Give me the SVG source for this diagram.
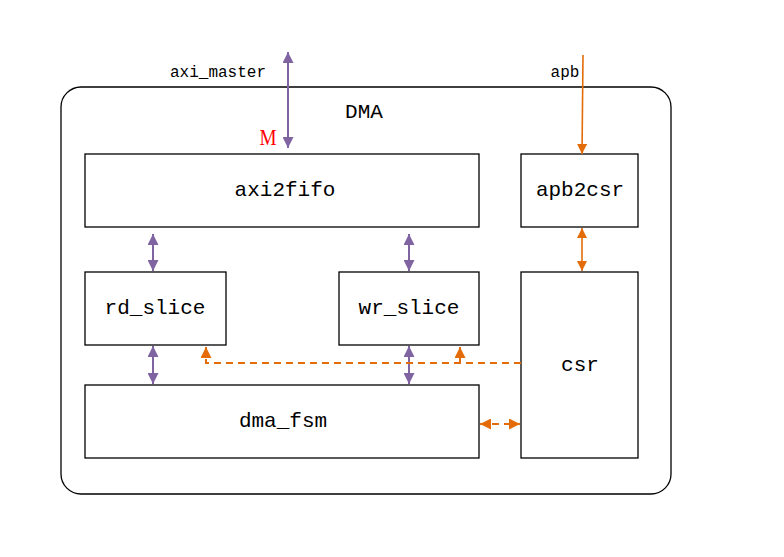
<svg xmlns="http://www.w3.org/2000/svg" width="784" height="557" viewBox="0 0 784 557">
<style>
.box{fill:#fff;stroke:#000;stroke-width:1.3}
.lbl{font-family:"Liberation Mono","DejaVu Sans Mono",monospace;font-size:21px;fill:#000;text-anchor:middle;dominant-baseline:central}
.sm{font-family:"Liberation Mono","DejaVu Sans Mono",monospace;font-size:16px;fill:#000;text-anchor:middle}
.pu{stroke:#8064a2;stroke-width:2;fill:none}
.or{stroke:#e36c09;stroke-width:1.6;fill:none}
.ord{stroke:#e36c09;stroke-width:2;fill:none;stroke-dasharray:7 5}
</style>
<defs>
<marker id="pa" viewBox="0 0 10 10" refX="10" refY="5" markerWidth="5.5" markerHeight="5.5" orient="auto-start-reverse" markerUnits="strokeWidth"><path d="M0,0 L10,5 L0,10 z" fill="#8064a2"/></marker>
<marker id="oa" viewBox="0 0 10 10" refX="10" refY="5" markerWidth="6.5" markerHeight="6.5" orient="auto-start-reverse" markerUnits="strokeWidth"><path d="M0,0 L10,5 L0,10 z" fill="#e36c09"/></marker>
<marker id="ob" viewBox="0 0 10 10" refX="10" refY="5" markerWidth="5.5" markerHeight="5.5" orient="auto-start-reverse" markerUnits="strokeWidth"><path d="M0,0 L10,5 L0,10 z" fill="#e36c09"/></marker>
</defs>
<rect width="784" height="557" fill="#fff"/>
<g id="dma">
<rect x="61" y="87" width="610" height="407" rx="20" ry="20" class="box"/>
<text x="364" y="112" class="lbl">DMA</text>
</g>
<g id="axi2fifo"><rect x="85" y="154" width="394" height="73" class="box"/><text x="285" y="190" class="lbl">axi2fifo</text></g>
<g id="apb2csr"><rect x="521" y="154" width="117" height="73" class="box"/><text x="580" y="190" class="lbl">apb2csr</text></g>
<g id="rd_slice"><rect x="85" y="272" width="141" height="73" class="box"/><text x="155" y="308" class="lbl">rd_slice</text></g>
<g id="wr_slice"><rect x="339" y="272" width="140" height="73" class="box"/><text x="409" y="308" class="lbl">wr_slice</text></g>
<g id="csr"><rect x="521" y="272" width="117" height="186" class="box"/><text x="580" y="365" class="lbl">csr</text></g>
<g id="dma_fsm"><rect x="85" y="385" width="394" height="73" class="box"/><text x="283" y="421" class="lbl">dma_fsm</text></g>
<g id="connectors">
<line x1="288" y1="52" x2="288" y2="148" class="pu" marker-start="url(#pa)" marker-end="url(#pa)"/>
<text x="218" y="77" class="sm">axi_master</text>
<text x="268" y="145" font-family="Liberation Serif,serif" font-size="24" fill="#ff0000" text-anchor="middle" transform="translate(268 145) scale(0.8 1) translate(-268 -145)">M</text>
<line x1="583" y1="55" x2="582" y2="154" class="or" marker-end="url(#oa)"/>
<text x="565" y="77" class="sm">apb</text>
<line x1="582" y1="228" x2="582" y2="271" class="or" marker-start="url(#oa)" marker-end="url(#oa)"/>
<line x1="153" y1="234" x2="153" y2="271" class="pu" marker-start="url(#pa)" marker-end="url(#pa)"/>
<line x1="409" y1="234" x2="409" y2="271" class="pu" marker-start="url(#pa)" marker-end="url(#pa)"/>
<line x1="153" y1="346" x2="153" y2="384" class="pu" marker-start="url(#pa)" marker-end="url(#pa)"/>
<line x1="409" y1="346" x2="409" y2="384" class="pu" marker-start="url(#pa)" marker-end="url(#pa)"/>
<path d="M521,363 H206 V347" class="ord" marker-end="url(#ob)"/>
<path d="M460,363 V347" class="ord" stroke-dasharray="none" marker-end="url(#ob)"/>
<line x1="480" y1="424" x2="520" y2="424" class="ord" marker-start="url(#ob)" marker-end="url(#ob)"/>
</g>
</svg>
